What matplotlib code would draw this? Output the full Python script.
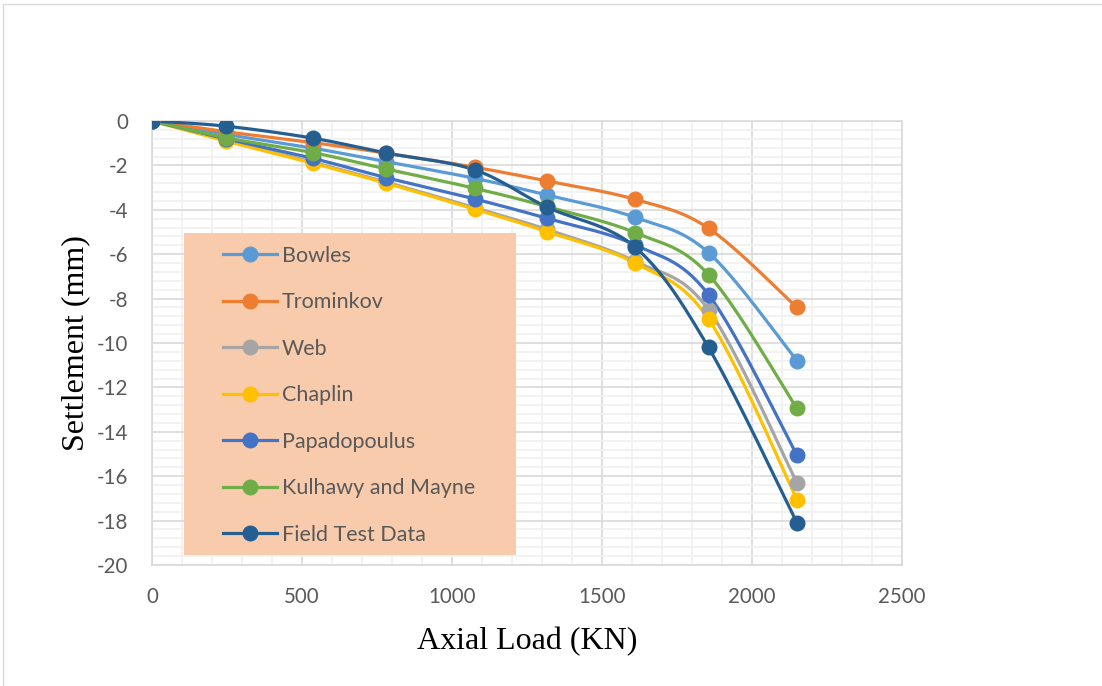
import numpy as np
import matplotlib.pyplot as plt
from matplotlib.patches import Rectangle
from matplotlib.lines import Line2D

plt.rcParams["axes.unicode_minus"] = False

# axial load (kN) at each load step
load = [0, 245, 535, 780, 1075, 1315, 1610, 1855, 2150]

bowles = [0, -0.60, -1.22, -1.83, -2.58, -3.33, -4.34, -5.93, -10.80]
trominkov = [0, -0.48, -0.97, -1.45, -2.08, -2.70, -3.53, -4.83, -8.40]
web = [0, -0.85, -1.85, -2.75, -3.90, -4.88, -6.32, -8.50, -16.30]
chaplin = [0, -0.90, -1.90, -2.80, -3.97, -4.98, -6.40, -8.92, -17.05]
papadopoulus = [0, -0.80, -1.68, -2.55, -3.51, -4.38, -5.58, -7.82, -15.05]
kulhawy = [0, -0.75, -1.42, -2.16, -3.03, -3.85, -5.03, -6.92, -12.95]
field = [0, -0.23, -0.77, -1.44, -2.20, -3.87, -5.68, -10.20, -18.10]

series_names = ["Bowles", "Trominkov", "Web", "Chaplin", "Papadopoulus",
                "Kulhawy and Mayne", "Field Test Data"]
series_values = [bowles, trominkov, web, chaplin, papadopoulus, kulhawy, field]
series_colors = ["#5B9BD5", "#ED7D31", "#A5A5A5", "#FFC000", "#4472C4",
                 "#70AD47", "#255E91"]

TICK_FONT = "Lato"
LABEL_FONT = "Liberation Serif"
W, H = 1102, 686


def smooth(x, y, n=30):
    """Excel-style smoothed line: cubic Bezier through the points with
    Catmull-Rom control points."""
    p = np.column_stack([x, y]).astype(float)
    ext = np.vstack([p[0], p, p[-1]])
    t = np.linspace(0, 1, n)[:, None]
    out = []
    for i in range(len(p) - 1):
        p0, p1, p2, p3 = ext[i], ext[i + 1], ext[i + 2], ext[i + 3]
        c1 = p1 + (p2 - p0) / 6
        c2 = p2 - (p3 - p1) / 6
        seg = ((1 - t) ** 3 * p1 + 3 * (1 - t) ** 2 * t * c1
               + 3 * (1 - t) * t ** 2 * c2 + t ** 3 * p2)
        out.append(seg if i == 0 else seg[1:])
    out = np.vstack(out)
    return out[:, 0], out[:, 1]


fig = plt.figure(figsize=(W / 100, H / 100), dpi=100)
ax = fig.add_axes([152 / W, 1 - 565 / H, 750 / W, 444 / H])

# light frame around the whole chart area
fig.patches.append(Rectangle((3 / W, -0.01), 1.1, 1 - 4 / H + 0.01,
                             transform=fig.transFigure, fill=False,
                             edgecolor="#d9d9d9", linewidth=1.0))

for vals, name, color in zip(series_values, series_names, series_colors):
    sx, sy = smooth(load, vals)
    ax.plot(sx, sy, color=color, linewidth=2.3, solid_capstyle="round",
            zorder=3)
    ax.plot(load, vals, linestyle="none", marker="o", markersize=10.5,
            color=color, zorder=4)

ax.set_xlim(0, 2500)
ax.set_ylim(-20, 0)
ax.set_xticks(np.arange(0, 2501, 500))
ax.set_yticks(np.arange(-20, 1, 2))
ax.set_xticks(np.arange(0, 2501, 100), minor=True)
ax.set_yticks(np.arange(-20, 0.01, 0.4), minor=True)
ax.grid(True, which="major", color="#d9d9d9", linewidth=1.2, zorder=0)
ax.grid(True, which="minor", color="#f0f0f0", linewidth=1.2, zorder=0)
ax.set_axisbelow(True)
ax.tick_params(which="both", length=0)
ax.tick_params(axis="x", pad=16)
ax.tick_params(axis="y", pad=17)
for lab in ax.get_xticklabels() + ax.get_yticklabels():
    lab.set_fontfamily(TICK_FONT)
    lab.set_fontsize(14.8)
    lab.set_color("#595959")
for s in ax.spines.values():
    s.set_color("#d9d9d9")
    s.set_linewidth(1.2)

ax.set_xlabel("Axial Load (KN)", fontfamily=LABEL_FONT, fontsize=23,
              labelpad=14)
ax.set_ylabel("Settlement (mm)", fontfamily=LABEL_FONT, fontsize=23,
              labelpad=5)

# legend: peach box with entries drawn on top
ax.add_patch(Rectangle((184 / W, 1 - 555 / H), 332 / W, 322 / H,
                       transform=fig.transFigure, facecolor="#F8CBAD",
                       edgecolor="none", zorder=2.5))
handles = [Line2D([0], [0], color=c, linewidth=2.3, marker="o",
                  markersize=10.5) for c in series_colors]
leg = ax.legend(handles, series_names, loc="upper left",
                bbox_to_anchor=(223 / W, 1 - 246 / H),
                bbox_transform=fig.transFigure, frameon=False,
                prop={"family": TICK_FONT, "size": 15.5},
                labelcolor="#595959", handlelength=2.5, handletextpad=0.23,
                labelspacing=1.23, borderpad=0, borderaxespad=0)
leg.set_zorder(5)

fig.savefig("out.png", dpi=100)
